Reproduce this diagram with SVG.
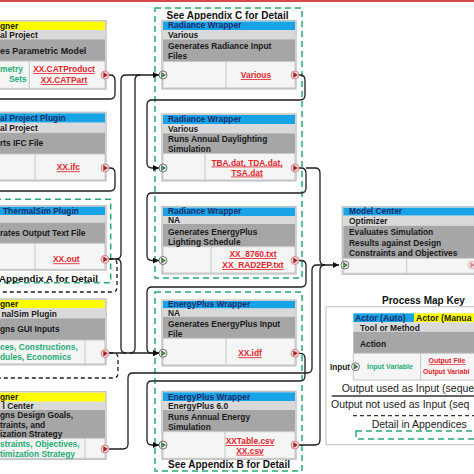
<svg xmlns="http://www.w3.org/2000/svg" width="474" height="474" viewBox="0 0 474 474">
<style>
.hb{fill:#18a3e6}.hy{fill:#ffff00}.lt{fill:#d9d9d9}.dk{fill:#a6a6a6}
.wt{fill:#f5f5f5;stroke:#c6c6c6;stroke-width:1}
.fr{fill:none;stroke:#c2c2c2;stroke-width:1.5}
.dv{stroke:#c6c6c6;stroke-width:1}
.t{font-family:"Liberation Sans",Arial,sans-serif;font-weight:bold;font-size:8.4px;fill:#1a1a1a}
.nv{fill:#1c2c6b}
.rd{fill:#e1262d;text-decoration:underline;text-anchor:middle}
.gr{fill:#26ad76}
.sm{font-size:7px}
.ttl{font-family:"Liberation Sans",Arial,sans-serif;font-weight:bold;font-size:10px;fill:#111}
.kt{font-family:"Liberation Sans",Arial,sans-serif;font-size:10.5px;fill:#222}
.c{fill:none;stroke:#1e1e1e;stroke-width:1.3}
.cd{fill:none;stroke:#1e1e1e;stroke-width:1.3;stroke-dasharray:4 3}
.gd{fill:none;stroke:#2aa876;stroke-width:1.5;stroke-dasharray:6 4}
</style>
<defs>
<marker id="ah" markerWidth="6" markerHeight="6" refX="6" refY="3" orient="auto" markerUnits="userSpaceOnUse"><path d="M0,0 L6,3 L0,6z" fill="#111"/></marker>
<g id="in"><circle r="4" fill="#f0f0f0" stroke="#555" stroke-width="0.8"/><path d="M-1.4,-2.4 L2.4,0 L-1.4,2.4z" fill="#3aa34a" stroke="#222" stroke-width="0.5"/></g>
<g id="out"><circle r="4" fill="#f6d3d3" stroke="#c77" stroke-width="0.8"/><path d="M-1.4,-2.4 L2.4,0 L-1.4,2.4z" fill="#b81c26" stroke="#611" stroke-width="0.4"/></g>
</defs>
<rect x="0" y="0" width="474" height="2" fill="#d84a4a"/>

<!-- green dashed appendix boxes -->
<rect class="gd" x="155" y="8" width="147" height="270"/>
<rect class="gd" x="155" y="292" width="147" height="179"/>
<rect class="gd" x="-5" y="199.3" width="115.7" height="83.4"/>
<text class="ttl" x="227.5" y="18.5" text-anchor="middle">See Appendix C for Detail</text>
<text class="ttl" x="229" y="467.5" text-anchor="middle">See Appendix B for Detail</text>
<text class="ttl" x="-1" y="282" style="font-size:9.8px">Appendix A for Detail</text>

<g id="connectors">
<path class="c" d="M109,75 H110 Q115,75 115,80 V94 Q115,99 110,99 H-5"/>
<path class="c" d="M109,168 H110 Q115,168 115,173 V186 Q115,191 110,191 H-5"/>
<path class="c" d="M109,259 H116 Q121,259 121,254 V80 Q121,75 126,75 H159" marker-end="url(#ah)"/>
<path class="c" d="M116,259 Q121,259 121,264 V348 Q121,353 126,353"/>
<path class="c" d="M109,353 H159" marker-end="url(#ah)"/>
<path class="c" d="M130,353 Q135,353 135,348 V80 Q135,75 140,75"/>
<path class="c" d="M109,449 H123 Q128,449 128,444 V378 Q128,373 133,373 H307 Q312,373 312,368 V270 Q312,265 317,265 H339" marker-end="url(#ah)"/>
<path class="c" d="M299,75 H300 Q305,75 305,80 V95 Q305,100 300,100 H152 Q147,100 147,105 V163 Q147,168 152,168 H159" marker-end="url(#ah)"/>
<path class="c" d="M299,168 H301 Q306,168 306,173 V188 Q306,193 301,193 H152 Q147,193 147,198 V255.5 Q147,260.5 152,260.5 H159" marker-end="url(#ah)"/>
<path class="c" d="M306,168 H315 Q320,168 320,173 V260 Q320,265 325,265"/>
<path class="c" d="M299,260.5 H301 Q306,260.5 306,265.5 V282 Q306,287 301,287 H152 Q147,287 147,292 V348.3 Q147,353.3 152,353.3 H159" marker-end="url(#ah)"/>
<path class="c" d="M299,353.3 H300 Q305,353.3 305,358.3 V376 Q305,381 300,381 H152 Q147,381 147,386 V440 Q147,445 152,445 H159" marker-end="url(#ah)"/>
<path class="c" d="M299,445 H315 Q320,445 320,440 V270 Q320,265 325,265"/>
<path class="cd" d="M109,259 H112 Q117,259 117,264 V287 Q117,292 112,292 H-5"/>
<path class="cd" d="M109,353 H113 Q118,353 118,358 V373 Q118,378 113,378 H-5"/>
</g>

<!-- Left cards -->
<g id="designer-digital-project">
<rect class="fr" x="-5" y="20.8" width="111" height="68.2"/>
<rect class="hy" x="-5" y="21.7" width="110" height="8.3"/>
<rect class="lt" x="-5" y="30" width="110" height="9.3"/>
<rect class="dk" x="-5" y="39.3" width="110" height="21.7"/>
<rect class="wt" x="-5" y="61" width="110" height="27.3"/>
<line class="dv" x1="29.3" y1="61" x2="29.3" y2="88.3"/>
<text class="t" x="0" y="28.6">gner</text>
<text class="t" x="0" y="38">al Project</text>
<text class="t" x="0" y="54" style="font-size:8.9px">es Parametric Model</text>
<text class="t gr" x="0" y="72.3">metry</text>
<text class="t gr" x="9" y="82">Sets</text>
<text class="t rd" x="64" y="72">XX.CATProduct</text>
<text class="t rd" x="64" y="83">XX.CATPart</text>
<use href="#out" x="105" y="75"/>
</g>

<g id="digital-project-plugin">
<rect class="fr" x="-5" y="112.4" width="111" height="68.4"/>
<rect class="hb" x="-5" y="113.3" width="110" height="9.4"/>
<rect class="lt" x="-5" y="122.7" width="110" height="10"/>
<rect class="dk" x="-5" y="132.7" width="110" height="21.3"/>
<rect class="wt" x="-5" y="154" width="110" height="26"/>
<line class="dv" x1="35" y1="154" x2="35" y2="180"/>
<text class="t nv" x="0" y="121">al Project Plugin</text>
<text class="t" x="0" y="131.3">al Project</text>
<text class="t" x="0" y="146.3">rts IFC File</text>
<text class="t rd" x="68.3" y="170.3">XX.ifc</text>
<use href="#out" x="105" y="168"/>
</g>

<g id="thermalsim-plugin">
<rect class="fr" x="-5" y="205.8" width="111" height="64.3"/>
<rect class="hb" x="-5" y="206.7" width="110" height="8.3"/>
<rect class="lt" x="-5" y="215" width="110" height="7.5"/>
<rect class="dk" x="-5" y="222.5" width="110" height="20.8"/>
<rect class="wt" x="-5" y="243.3" width="110" height="26"/>
<line class="dv" x1="35" y1="243.3" x2="35" y2="269.3"/>
<text class="t nv" x="3" y="213.6">ThermalSim Plugin</text>
<text class="t" x="0" y="235.5">rates Output Text File</text>
<text class="t rd" x="66.3" y="262.3">XX.out</text>
<use href="#out" x="105" y="259.3"/>
</g>

<g id="designer-thermalsim">
<rect class="fr" x="-5" y="299.1" width="111" height="65.6"/>
<rect class="hy" x="-5" y="300" width="110" height="8.3"/>
<rect class="lt" x="-5" y="308.3" width="110" height="10"/>
<rect class="dk" x="-5" y="318.3" width="110" height="21.7"/>
<rect class="wt" x="-5" y="340" width="110" height="24"/>
<line class="dv" x1="85" y1="340" x2="85" y2="364"/>
<text class="t" x="0" y="306.8">gner</text>
<text class="t" x="1.5" y="316.6">nalSim Plugin</text>
<text class="t" x="0" y="332.3">gns GUI Inputs</text>
<text class="t gr" x="0" y="350.3">ces, Constructions,</text>
<text class="t gr" x="0" y="360.3">dules, Economics</text>
<use href="#out" x="105" y="353.5"/>
</g>

<g id="designer-model-center">
<rect class="fr" x="-5" y="391.8" width="111" height="67.4"/>
<rect class="hy" x="-5" y="392.7" width="110" height="9"/>
<rect class="lt" x="-5" y="401.7" width="110" height="8.3"/>
<rect class="dk" x="-5" y="410" width="110" height="28.3"/>
<rect class="wt" x="-5" y="438.3" width="110" height="20"/>
<line class="dv" x1="85" y1="438.3" x2="85" y2="458.3"/>
<text class="t" x="0" y="399.8">gner</text>
<text class="t" x="2.5" y="409.1">l Center</text>
<text class="t" x="0" y="418.4">gns Design Goals,</text>
<text class="t" x="0" y="427.6">traints, and</text>
<text class="t" x="0" y="436.8">ization Strategy</text>
<text class="t gr" x="0" y="446.5">straints, Objectives,</text>
<text class="t gr" x="0" y="456.8">timization Strategy</text>
<use href="#out" x="105" y="449"/>
</g>

<!-- Center cards -->
<g id="radiance-wrapper-1">
<rect class="fr" x="162" y="20.6" width="134" height="68.2"/>
<rect class="hb" x="163" y="21.5" width="132" height="8.5"/>
<rect class="lt" x="163" y="30" width="132" height="9.3"/>
<rect class="dk" x="163" y="39.3" width="132" height="22.2"/>
<rect class="wt" x="163" y="61.5" width="132" height="26.5"/>
<line class="dv" x1="226" y1="61.5" x2="226" y2="88"/>
<text class="t nv" x="168" y="28.3">Radiance Wrapper</text>
<text class="t" x="168" y="37.8">Various</text>
<text class="t" x="168" y="48.5">Generates Radiance Input</text>
<text class="t" x="168" y="58.5">Files</text>
<text class="t rd" x="256" y="78">Various</text>
<use href="#in" x="163" y="75"/>
<use href="#out" x="295" y="75"/>
</g>

<g id="radiance-wrapper-2">
<rect class="fr" x="162" y="114.1" width="134" height="66.7"/>
<rect class="hb" x="163" y="115" width="132" height="9"/>
<rect class="lt" x="163" y="124" width="132" height="9.3"/>
<rect class="dk" x="163" y="133.3" width="132" height="20.2"/>
<rect class="wt" x="163" y="153.5" width="132" height="26.5"/>
<line class="dv" x1="205" y1="153.5" x2="205" y2="180"/>
<text class="t nv" x="168" y="122.2">Radiance Wrapper</text>
<text class="t" x="168" y="131.6">Various</text>
<text class="t" x="168" y="142.2">Runs Annual Daylighting</text>
<text class="t" x="168" y="152">Simulation</text>
<text class="t rd" x="247" y="165.5">TBA.dat, TDA.dat,</text>
<text class="t rd" x="247" y="175.5">TSA.dat</text>
<use href="#in" x="163" y="168"/>
<use href="#out" x="295" y="168"/>
</g>

<g id="radiance-wrapper-3">
<rect class="fr" x="162" y="206.6" width="134" height="67.2"/>
<rect class="hb" x="163" y="207.5" width="132" height="8.5"/>
<rect class="lt" x="163" y="216" width="132" height="8"/>
<rect class="dk" x="163" y="224" width="132" height="22.7"/>
<rect class="wt" x="163" y="246.7" width="132" height="26.3"/>
<line class="dv" x1="211" y1="246.7" x2="211" y2="273"/>
<text class="t nv" x="168" y="214.2">Radiance Wrapper</text>
<text class="t" x="168" y="223.4">NA</text>
<text class="t" x="168" y="235.3">Generates EnergyPlus</text>
<text class="t" x="168" y="245.3">Lighting Schedule</text>
<text class="t rd" x="253" y="257">XX_8760.txt</text>
<text class="t rd" x="253" y="268">XX_RAD2EP.txt</text>
<use href="#in" x="163" y="260.5"/>
<use href="#out" x="295" y="260.5"/>
</g>

<g id="energyplus-wrapper-1">
<rect class="fr" x="162" y="300.1" width="134" height="65.7"/>
<rect class="hb" x="163" y="301" width="132" height="7.5"/>
<rect class="lt" x="163" y="308.5" width="132" height="8.2"/>
<rect class="dk" x="163" y="316.7" width="132" height="21.6"/>
<rect class="wt" x="163" y="338.3" width="132" height="26.7"/>
<line class="dv" x1="226" y1="338.3" x2="226" y2="365"/>
<text class="t nv" x="168" y="306.9">EnergyPlus Wrapper</text>
<text class="t" x="168" y="316.1">NA</text>
<text class="t" x="168" y="327">Generates EnergyPlus Input</text>
<text class="t" x="168" y="337">File</text>
<text class="t rd" x="250" y="356.3">XX.idf</text>
<use href="#in" x="163" y="353.3"/>
<use href="#out" x="295" y="353.3"/>
</g>

<g id="energyplus-wrapper-2">
<rect class="fr" x="162" y="391.4" width="134" height="67.8"/>
<rect class="hb" x="163" y="392.3" width="132" height="8.7"/>
<rect class="lt" x="163" y="401" width="132" height="9"/>
<rect class="dk" x="163" y="410" width="132" height="21.7"/>
<rect class="wt" x="163" y="431.7" width="132" height="26.6"/>
<line class="dv" x1="225" y1="431.7" x2="225" y2="458.3"/>
<text class="t nv" x="168" y="399.5">EnergyPlus Wrapper</text>
<text class="t" x="168" y="408.8">EnergyPlus 6.0</text>
<text class="t" x="168" y="419.7">Runs Annual Energy</text>
<text class="t" x="168" y="429.7">Simulation</text>
<text class="t rd" x="250" y="444">XXTable.csv</text>
<text class="t rd" x="250" y="453.7">XX.csv</text>
<use href="#in" x="163" y="445"/>
<use href="#out" x="295" y="445"/>
</g>

<g id="model-center-optimizer">
<rect class="fr" x="342.4" y="206.8" width="140" height="67.4"/>
<rect class="hb" x="343.3" y="207.7" width="140" height="8"/>
<rect class="lt" x="343.3" y="215.7" width="140" height="10"/>
<rect class="dk" x="343.3" y="225.7" width="140" height="32.6"/>
<rect class="wt" x="343.3" y="258.3" width="140" height="15"/>
<line class="dv" x1="406.7" y1="258.3" x2="406.7" y2="273.3"/>
<text class="t nv" x="349" y="214.3">Model Center</text>
<text class="t" x="349" y="224">Optimizer</text>
<text class="t" x="349" y="234.7">Evaluates Simulation</text>
<text class="t" x="349" y="245.7">Results against Design</text>
<text class="t" x="349" y="256.3">Constraints and Objectives</text>
<use href="#in" x="345" y="265"/>
<use href="#out" x="472" y="265" opacity="0.5"/>
</g>

<g id="process-map-key">
<text class="ttl" x="382" y="304">Process Map Key</text>
<rect x="326" y="306.7" width="160" height="138" fill="none" stroke="#c8c8c8" stroke-width="1.2"/>
<rect class="hb" x="353.3" y="313.3" width="60.7" height="9"/>
<rect class="hy" x="414" y="313.3" width="70" height="9"/>
<rect class="lt" x="353.3" y="322.3" width="130" height="9.4"/>
<rect class="dk" x="353.3" y="331.7" width="130" height="21.6"/>
<rect class="wt" x="353.3" y="353.3" width="130" height="26.7"/>
<line class="dv" x1="420.7" y1="353.3" x2="420.7" y2="380"/>
<text class="t nv" x="355" y="320.9" style="font-size:8.7px">Actor (Auto)</text>
<text class="t" x="416" y="320.9" style="font-size:8.7px">Actor (Manua</text>
<text class="t" x="360" y="330.5">Tool or Method</text>
<text class="t" x="360" y="346.5">Action</text>
<text class="t" x="330" y="369.7" style="font-size:8.2px">Input</text>
<use href="#in" x="355.5" y="366.7"/>
<text class="t gr sm" x="390" y="369.2" text-anchor="middle">Input Variable</text>
<text class="t rd sm" x="447" y="363.3">Output File</text>
<text class="t sm" x="423" y="373.5" style="fill:#e1262d;font-size:6.8px">Output Variabl</text>
<text class="kt" x="341.7" y="392">Output used as Input (seque</text>
<line x1="331.7" y1="396" x2="474" y2="396" stroke="#333" stroke-width="1.3"/>
<text class="kt" x="331" y="408.3">Output not used as Input (seq</text>
<line x1="353" y1="415.7" x2="474" y2="415.7" stroke="#333" stroke-width="1.3" stroke-dasharray="4 3"/>
<text class="kt" x="371.7" y="428">Detail in Appendices</text>
<rect class="gd" x="356" y="431" width="130" height="8"/>
</g>
</svg>
